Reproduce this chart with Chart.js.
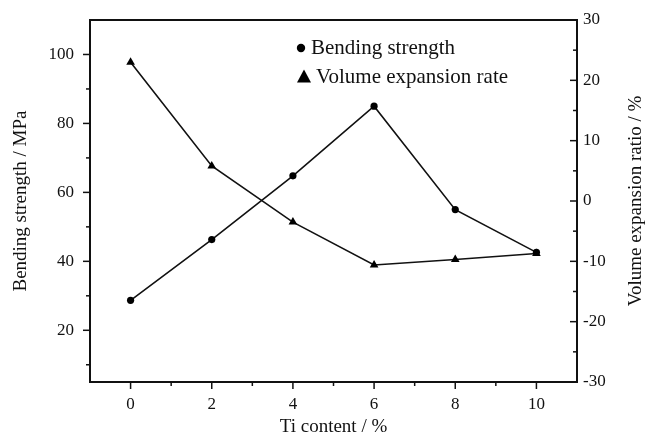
<!DOCTYPE html>
<html>
<head>
<meta charset="utf-8">
<script src="https://cdn.jsdelivr.net/npm/chart.js@4.4.1/dist/chart.umd.min.js"></script>
<style>
  html, body { margin: 0; padding: 0; background: #fff; }
</style>
</head>
<body>
<canvas id="chart" width="654" height="436"></canvas>
<script>
// data
const tiContent = [0, 2, 4, 6, 8, 10];
const bendingStrength = [28.7, 46.3, 64.8, 85.0, 55.0, 42.6];   // MPa, left axis
const volumeExpansion = [23.0, 5.8, -3.5, -10.6, -9.7, -8.7];   // %, right axis

// axis ticks
const xTicks = [0, 2, 4, 6, 8, 10];
const xMinorTicks = [1, 3, 5, 7, 9];
const leftTicks = [20, 40, 60, 80, 100];
const leftMinorTicks = [10, 30, 50, 70, 90];
const rightTicks = [-30, -20, -10, 0, 10, 20, 30];
const rightMinorTicks = [-25, -15, -5, 5, 15, 25];

const serif = '"Liberation Serif", "Times New Roman", serif';
const ink = '#111';

function toPoints(xs, ys) {
  return xs.map((x, i) => ({ x: x, y: ys[i] }));
}

// short/long tick marks (Chart.js has no minor ticks)
const tickMarks = {
  id: 'tickMarks',
  afterDraw(chart) {
    const { ctx, chartArea: a, scales } = chart;
    ctx.save();
    ctx.strokeStyle = ink;
    ctx.lineWidth = 1.5;
    const seg = (x1, y1, x2, y2) => {
      ctx.beginPath(); ctx.moveTo(x1, y1); ctx.lineTo(x2, y2); ctx.stroke();
    };
    xTicks.forEach(v => { const p = scales.x.getPixelForValue(v); seg(p, a.bottom, p, a.bottom + 7); });
    xMinorTicks.forEach(v => { const p = scales.x.getPixelForValue(v); seg(p, a.bottom, p, a.bottom + 4); });
    leftTicks.forEach(v => { const p = scales.y.getPixelForValue(v); seg(a.left, p, a.left - 7, p); });
    leftMinorTicks.forEach(v => { const p = scales.y.getPixelForValue(v); seg(a.left, p, a.left - 4, p); });
    rightTicks.forEach(v => { const p = scales.y1.getPixelForValue(v); seg(a.right, p, a.right - 7, p); });
    rightMinorTicks.forEach(v => { const p = scales.y1.getPixelForValue(v); seg(a.right, p, a.right - 4, p); });

    // right axis title reads bottom-to-top like the left one
    ctx.fillStyle = ink;
    ctx.font = '19px ' + serif;
    ctx.textAlign = 'center';
    ctx.textBaseline = 'middle';
    ctx.translate(636, (a.top + a.bottom) / 2);
    ctx.rotate(-Math.PI / 2);
    ctx.fillText('Volume expansion ratio / %', 0, 0);
    ctx.restore();
  }
};

// legend inside the plot, top middle
const innerLegend = {
  id: 'innerLegend',
  afterDraw(chart) {
    const ctx = chart.ctx;
    ctx.save();
    ctx.fillStyle = '#000';
    ctx.beginPath();
    ctx.arc(301, 48, 4.2, 0, Math.PI * 2);
    ctx.fill();
    ctx.beginPath();
    ctx.moveTo(304, 69.5);
    ctx.lineTo(311, 82.5);
    ctx.lineTo(297, 82.5);
    ctx.closePath();
    ctx.fill();
    ctx.fillStyle = ink;
    ctx.font = '21px ' + serif;
    ctx.textBaseline = 'alphabetic';
    ctx.fillText('Bending strength', 311, 54);
    ctx.fillText('Volume expansion rate', 316, 83);
    ctx.restore();
  }
};

const tickFont = { family: serif, size: 17 };
const titleFont = { family: serif, size: 19 };
// invisible Chart.js ticks only reserve the gap between axis and labels
const hiddenTicks = len => ({ drawOnChartArea: false, drawTicks: true, tickLength: len, tickColor: 'rgba(0,0,0,0)' });

new Chart(document.getElementById('chart'), {
  type: 'line',
  data: {
    datasets: [
      {
        label: 'Bending strength',
        data: toPoints(tiContent, bendingStrength),
        yAxisID: 'y',
        borderColor: ink,
        borderWidth: 1.6,
        pointStyle: 'circle',
        pointRadius: 3.6,
        pointBackgroundColor: '#000',
        pointBorderColor: '#000',
        pointBorderWidth: 0,
        tension: 0
      },
      {
        label: 'Volume expansion rate',
        data: toPoints(tiContent, volumeExpansion),
        yAxisID: 'y1',
        borderColor: ink,
        borderWidth: 1.6,
        pointStyle: 'triangle',
        pointRadius: 5,
        pointBackgroundColor: '#000',
        pointBorderColor: '#000',
        pointBorderWidth: 0,
        tension: 0
      }
    ]
  },
  options: {
    responsive: false,
    animation: false,
    devicePixelRatio: 1,
    layout: { padding: 0 },
    plugins: {
      legend: { display: false },
      tooltip: { enabled: false }
    },
    scales: {
      x: {
        type: 'linear',
        position: 'bottom',
        min: -1,
        max: 11,
        afterBuildTicks: s => { s.ticks = xTicks.map(v => ({ value: v })); },
        afterFit: s => { s.height = 54; },
        grid: hiddenTicks(12),
        border: { color: ink, width: 2 },
        ticks: { font: tickFont, color: ink, padding: 0, maxRotation: 0 },
        title: { display: true, text: 'Ti content / %', font: { family: serif, size: 19, lineHeight: 0.9 }, color: ink, padding: 0 }
      },
      xTop: {
        type: 'linear',
        position: 'top',
        min: -1,
        max: 11,
        afterFit: s => { s.height = 20; },
        grid: { drawOnChartArea: false, drawTicks: false },
        border: { color: ink, width: 2 },
        ticks: { display: false }
      },
      y: {
        type: 'linear',
        position: 'left',
        min: 5,
        max: 110,
        afterBuildTicks: s => { s.ticks = leftTicks.map(v => ({ value: v })); },
        afterFit: s => { s.width = 90; },
        grid: hiddenTicks(16),
        border: { color: ink, width: 2 },
        ticks: { font: tickFont, color: ink, padding: 0 },
        title: { display: true, text: 'Bending strength / MPa', font: titleFont, color: ink, padding: { top: 10, bottom: 0 } }
      },
      y1: {
        type: 'linear',
        position: 'right',
        min: -30,
        max: 30,
        afterBuildTicks: s => { s.ticks = rightTicks.map(v => ({ value: v })); },
        afterFit: s => { s.width = 77; },
        grid: hiddenTicks(6),
        border: { color: ink, width: 2 },
        ticks: { font: tickFont, color: ink, padding: 0 },
        title: { display: false }
      }
    }
  },
  plugins: [tickMarks, innerLegend]
});
</script>
</body>
</html>
